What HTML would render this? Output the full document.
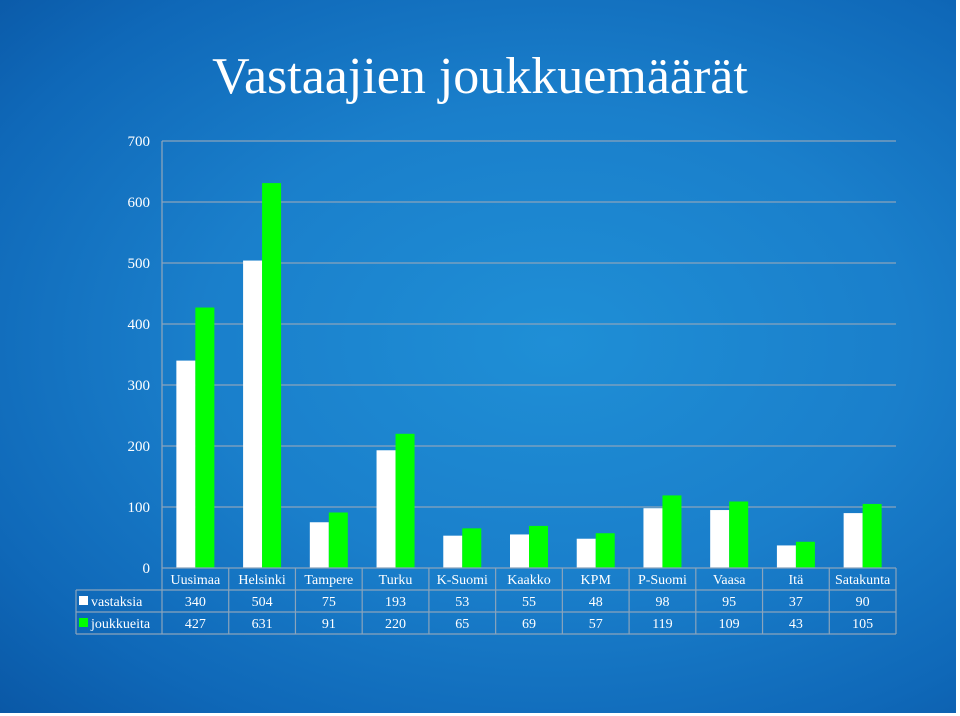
<!DOCTYPE html>
<html><head><meta charset="utf-8"><style>
body{margin:0;width:960px;height:716px;overflow:hidden;background:#fff;}
#bg{position:absolute;left:0;top:0;width:956px;height:713px;
background:radial-gradient(ellipse at 58% 48%,#1f8fd6 0%,#1a7fcb 45%,#0f68b8 80%,#0a58a6 100%);}
svg{position:absolute;left:0;top:0;}
text{font-family:"Liberation Serif",serif;fill:#fff;}
</style></head><body>
<div id="bg"></div>
<svg id="c" width="960" height="716">
<text x="480" y="93" font-size="52" text-anchor="middle">Vastaajien joukkuemäärät</text>
</svg>
<script>
const categories=["Uusimaa","Helsinki","Tampere","Turku","K-Suomi","Kaakko","KPM","P-Suomi","Vaasa","Itä","Satakunta"];
const vastaksia=[340,504,75,193,53,55,48,98,95,37,90];
const joukkueita=[427,631,91,220,65,69,57,119,109,43,105];
const ticks=[0,100,200,300,400,500,600,700];
const seriesNames=["vastaksia","joukkueita"];
const svg=document.getElementById('c');
const NS='http://www.w3.org/2000/svg';
const L=162,R=896,T=141,B=568,MAX=700;
const y=v=>B-(v/MAX)*(B-T);
const cw=(R-L)/categories.length;
const x=i=>L+i*cw;
function mk(t,a){const e=document.createElementNS(NS,t);for(const k in a)e.setAttribute(k,a[k]);svg.appendChild(e);return e;}
ticks.forEach(t=>{
 if(t>0){const g=mk('line',{x1:L,x2:R,y1:y(t),y2:y(t),stroke:'#8aa4bc','stroke-width':1.3});
 
 }
 const tx=mk('text',{x:150,y:y(t)+5,'font-size':15,'text-anchor':'end'});tx.textContent=t;
 
 
});
const ax=mk('line',{x1:L,x2:L,y1:T,y2:B,stroke:'#8aa4bc','stroke-width':1.3});


const bw=19;
categories.forEach((c,i)=>{
 const cx=x(i)+cw/2;
 const b1=mk('rect',{x:cx-bw,y:y(vastaksia[i]),width:bw,height:B-y(vastaksia[i]),fill:'#ffffff'});
 
 
 const b2=mk('rect',{x:cx,y:y(joukkueita[i]),width:bw,height:B-y(joukkueita[i]),fill:'#00ff00'});
 
 
});
const TL=76;
const st={stroke:'#8aa4bc','stroke-width':1.2};
[[L,R,568],[TL,R,590],[TL,R,612],[TL,R,634]].forEach(r=>{const l=mk('line',Object.assign({x1:r[0],x2:r[1],y1:r[2],y2:r[2]},st));
 
 });
for(let i=0;i<=categories.length;i++){const l=mk('line',Object.assign({x1:x(i),x2:x(i),y1:568,y2:634},st));
 
 }
const lv=mk('line',Object.assign({x1:TL,x2:TL,y1:590,y2:634},st));


categories.forEach((c,i)=>{
 const cx=x(i)+cw/2;
 const t=mk('text',{x:cx,y:584,'font-size':14,'text-anchor':'middle'});t.textContent=c;
 
 
 [vastaksia,joukkueita].forEach((arr,r)=>{
  const v=mk('text',{x:cx,y:606+r*22,'font-size':14,'text-anchor':'middle'});v.textContent=arr[i];
  
  
 });
});
seriesNames.forEach((n,r)=>{
 const k=mk('rect',{x:79,y:596+r*22,width:9,height:9,fill:r?'#00ff00':'#fff'});
 
 
 const t=mk('text',{x:91,y:606+r*22,'font-size':14});t.textContent=n;
 
 
});
</script>
</body></html>
